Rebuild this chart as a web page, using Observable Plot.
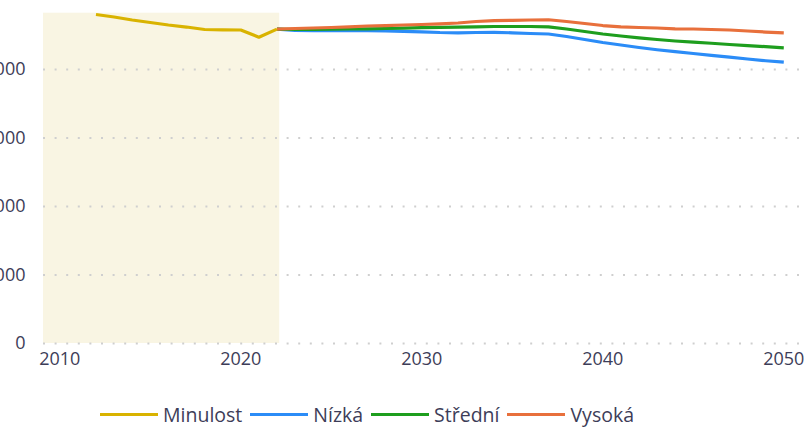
<!DOCTYPE html>
<html><head><meta charset="utf-8">
<script src="https://cdn.jsdelivr.net/npm/d3@7"></script>
<script src="https://cdn.jsdelivr.net/npm/@observablehq/plot@0.6"></script>
<style>
body{margin:0;background:#fff;}
#wrap{position:relative;width:811px;height:427px;overflow:hidden;font-family:"Open Sans",sans-serif;}
#chart{position:absolute;left:-37px;top:0;width:860px;}
#chart svg{max-width:none !important;}
#legend{position:absolute;top:401px;left:100px;display:flex;align-items:center;font-size:19.5px;color:#3d3d58;white-space:nowrap;}
#legend .sw{display:inline-block;width:58px;height:3px;margin-right:5px;}
#legend .lb{margin-right:8px;}
</style></head><body>
<div id="wrap"><div id="chart"></div><div id="legend"></div></div>
<script>
// Data (thousands)
const pastYears = [2012, 2013, 2014, 2015, 2016, 2017, 2018, 2019, 2020, 2021, 2022];
const pastValues = [4803, 4766, 4723, 4686, 4650, 4620, 4584, 4580, 4577, 4472, 4590];

const projYears = [2022, 2023, 2024, 2025, 2026, 2027, 2028, 2029, 2030, 2031, 2032, 2033, 2034, 2035, 2036,
  2037, 2038, 2039, 2040, 2041, 2042, 2043, 2044, 2045, 2046, 2047, 2048, 2049, 2050];
const nizka = [4590, 4572, 4569, 4569, 4569, 4569, 4565, 4558, 4550, 4540, 4536, 4540, 4543, 4536, 4526,
  4518, 4482, 4438, 4394, 4358, 4321, 4288, 4260, 4234, 4207, 4180, 4153, 4128, 4107];
const stredni = [4590, 4584, 4587, 4590, 4591, 4594, 4599, 4604, 4610, 4616, 4619, 4623, 4628, 4628, 4628,
  4623, 4591, 4555, 4518, 4489, 4463, 4438, 4416, 4399, 4383, 4365, 4350, 4333, 4317];
const vysoka = [4590, 4599, 4606, 4613, 4623, 4635, 4642, 4650, 4657, 4667, 4679, 4701, 4715, 4718, 4723,
  4726, 4701, 4672, 4642, 4623, 4613, 4606, 4594, 4591, 4584, 4577, 4562, 4547, 4536];

const seriesNames = ["Minulost", "Nízká", "Střední", "Vysoká"];
const seriesColors = ["#d9b300", "#2b8cf7", "#1e9e1e", "#e8703c"];
const drawOrder = ["Nízká", "Střední", "Vysoká", "Minulost"];

const xTicks = [2010, 2020, 2030, 2040, 2050];
const yTicks = [0, 1000, 2000, 3000, 4000];
const xDomain = [2009.1, 2051.2];
const yDomain = [0, 4822];
const pastBand = [2009.1, 2022.15];

const bySeries = {
  "Minulost": pastYears.map((y, i) => ({year: y, value: pastValues[i], series: "Minulost"})),
  "Nízká": projYears.map((y, i) => ({year: y, value: nizka[i], series: "Nízká"})),
  "Střední": projYears.map((y, i) => ({year: y, value: stredni[i], series: "Střední"})),
  "Vysoká": projYears.map((y, i) => ({year: y, value: vysoka[i], series: "Vysoká"}))
};
const data = drawOrder.flatMap(s => bySeries[s]);

const fmt = d => d3.format(",")(d).replace(/,/g, " ");
const tickColor = "#3d3d58";

const chart = Plot.plot({
  width: 860,
  height: 383,
  marginLeft: 80,
  marginRight: 18,
  marginTop: 12.7,
  marginBottom: 40,
  style: {fontFamily: "'Open Sans', sans-serif", background: "transparent"},
  x: {domain: xDomain, axis: null},
  y: {domain: yDomain, axis: null},
  color: {domain: seriesNames, range: seriesColors},
  marks: [
    Plot.rect([pastBand], {x1: d => d[0], x2: d => d[1], y1: () => yDomain[0], y2: () => yDomain[1], fill: "#f9f5e3"}),
    Plot.ruleY(yTicks, {stroke: "#cfcfcf", strokeWidth: 2, strokeDasharray: "2,9.6"}),
    Plot.axisX({ticks: xTicks, tickFormat: d => String(d), tickSize: 0, tickPadding: 9, label: null, fontSize: 18, fill: tickColor}),
    Plot.axisY({ticks: yTicks, tickFormat: fmt, tickSize: 0, tickPadding: 18, label: null, fontSize: 18, fill: tickColor}),
    Plot.line(data, {x: "year", y: "value", z: "series", stroke: "series", strokeWidth: 3.2, strokeLinejoin: "round", strokeLinecap: "butt"})
  ]
});
document.getElementById("chart").appendChild(chart);

const legend = document.getElementById("legend");
seriesNames.forEach((s, i) => {
  const sw = document.createElement("span");
  sw.className = "sw";
  sw.style.background = seriesColors[i];
  const lb = document.createElement("span");
  lb.className = "lb";
  lb.textContent = s;
  legend.appendChild(sw);
  legend.appendChild(lb);
});
</script>
</body></html>
